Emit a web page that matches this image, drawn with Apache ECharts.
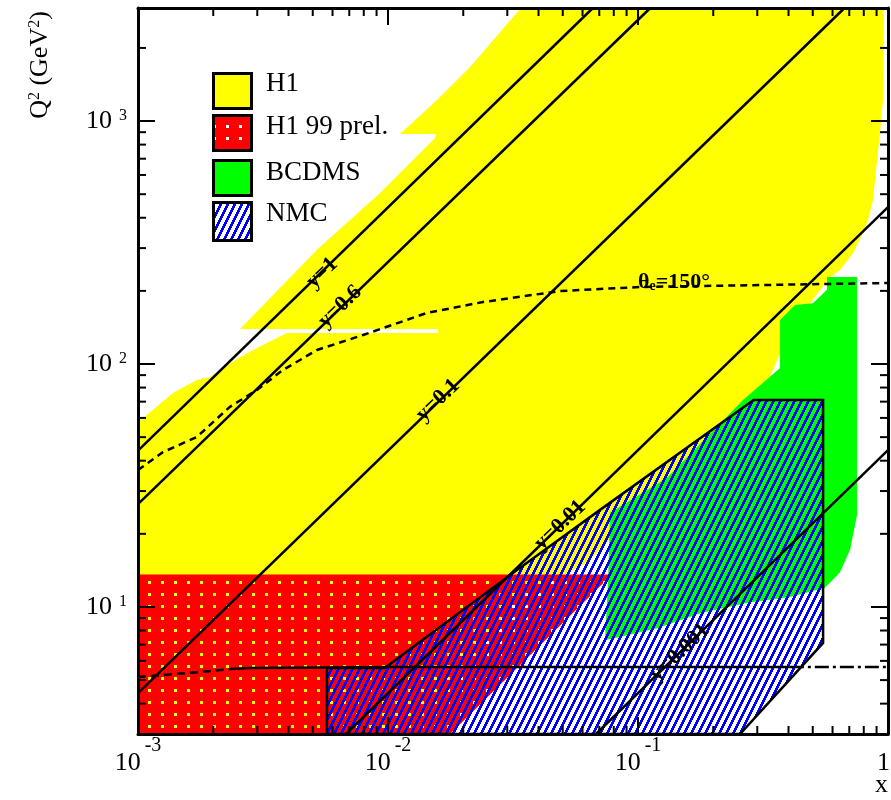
<!DOCTYPE html>
<html>
<head>
<meta charset="utf-8">
<script src="https://cdn.jsdelivr.net/npm/echarts@6/dist/echarts.min.js"></script>
<style>
  html, body { margin: 0; padding: 0; background: #fff; }
  #chart { width: 891px; height: 800px; }
</style>
</head>
<body>
<div id="chart"></div>
<script>
// ---- axis ranges and tick values ----
const X_MIN = 0.001, X_MAX = 1;
const Q_MIN = 3, Q_MAX = 2920;
const xMinorTicks = [0.002, 0.003, 0.004, 0.005, 0.006, 0.007, 0.008, 0.009,
                     0.02, 0.03, 0.04, 0.05, 0.06, 0.07, 0.08, 0.09,
                     0.2, 0.3, 0.4, 0.5, 0.6, 0.7, 0.8, 0.9];
const qMinorTicks = [4, 5, 6, 7, 8, 9, 20, 30, 40, 50, 60, 70, 80, 90,
                     200, 300, 400, 500, 600, 700, 800, 900, 2000];

// ---- measured regions, [x, Q2] ----
const h1Region = [
  [0.001, 3], [0.0134, 3], [0.0322, 10.7], [0.0625, 15.2], [0.1306, 33.3],
  [0.3076, 71.1], [0.4055, 138], [0.586, 228], [0.643, 244], [0.724, 286],
  [0.794, 346], [0.832, 392], [0.871, 473], [0.904, 691], [0.929, 893],
  [0.955, 1221], [0.964, 2920], [0.034, 2920], [0.0213, 1669], [0.0157, 1221],
  [0.01117, 885], [0.01556, 885], [0.01542, 852], [0.00929, 506], [0.0052, 295],
  [0.00256, 139.4], [0.01585, 139.4], [0.01585, 134.2], [0.00394, 134.2],
  [0.00316, 119.7], [0.00256, 106.9], [0.00219, 96.3], [0.00194, 88.4],
  [0.00172, 86.0], [0.00138, 76.0], [0.00112, 63.5], [0.001, 57.7]
];
const h1PrelRegion = [[0.001, 3], [0.001, 13.6], [0.0787, 13.6], [0.0177, 3]];
const bcdmsRegion = [
  [0.570, 228], [0.752, 228], [0.752, 23.9], [0.705, 17.2], [0.643, 13.9],
  [0.56, 12.0], [0.4055, 11.0], [0.275, 10.4], [0.1786, 9.44], [0.1202, 8.19],
  [0.0847, 7.52], [0.0738, 7.31], [0.0759, 12.9], [0.0773, 24.4], [0.1306, 34.0],
  [0.263, 71.1], [0.370, 96.3], [0.370, 151.8], [0.4246, 175], [0.501, 178],
  [0.570, 202]
];
const nmcRegion = [
  [0.0057, 3], [0.0057, 5.61], [0.0097, 5.61], [0.0316, 13.8], [0.0705, 25.1],
  [0.29, 71.1], [0.55, 71.1], [0.55, 7.11], [0.256, 3]
];

// ---- lines of constant y ----
const yLine1 = [[0.001, 44], [0.066, 2920]];
const yLine06 = [[0.001, 26.5], [0.112, 2920]];
const yLine01 = [[0.001, 4.42], [0.67, 2920]];
const yLine001 = [[0.00679, 3], [1, 442]];
const yLine0001 = [[0.0679, 3], [1, 44.2]];

// ---- lines of constant electron angle ----
const theta150 = [
  [0.001, 36.6], [0.00126, 43.4], [0.00172, 50.1], [0.00233, 66.6], [0.00299, 78.2],
  [0.0038, 94.5], [0.0052, 114.2], [0.00794, 131.6], [0.0143, 162.2], [0.024, 180],
  [0.0488, 199.7], [0.102, 207.5], [1, 215.5]
];
// low-angle curve, drawn in three pieces with different dash styles
const thetaLowLeft = [[0.001, 5.15], [0.00177, 5.40], [0.00233, 5.55]];
const thetaLowMid = [[0.00233, 5.55], [0.00281, 5.61], [0.0112, 5.66], [0.405, 5.66]];
const thetaLowRight = [[0.405, 5.66], [1, 5.66]];

// ---- line captions: text, x, Q2 ----
const yLabelText = ['y=1', 'y=0.6', 'y=0.1', 'y=0.01', 'y=0.001'];
const yLabelPos = [[0.00545, 237], [0.00643, 172], [0.01585, 71], [0.0488, 21.7], [0.147, 6.5]];
const thetaLabelPos = [[0.1, 196]];

// ---- fill patterns ----
function dotPattern(bg, w, h) {
  const c = document.createElement('canvas');
  c.width = w; c.height = h;
  const g = c.getContext('2d');
  g.fillStyle = bg; g.fillRect(0, 0, w, h);
  g.clearRect(5, 5, 3, 3);
  return { image: c, repeat: 'repeat' };
}
function hatchPattern(color) {
  const W = 7, H = 14;
  const c = document.createElement('canvas');
  c.width = W; c.height = H;
  const g = c.getContext('2d');
  g.fillStyle = color;
  for (let r = 0; r < H; r++) {
    const c0 = (W - 1 - Math.floor(r / 2) + W) % W;
    for (let k = 0; k < 3; k++) g.fillRect((c0 + k) % W, r, 1, 1);
  }
  return { image: c, repeat: 'repeat' };
}
const redDots = dotPattern('#ff0000', 13, 12);
const blueHatch = hatchPattern('#0000ff');

// ---- series builders ----
function region(points, fill, stroke, z) {
  return {
    type: 'custom', coordinateSystem: 'cartesian2d', silent: true, z: z,
    data: points,
    renderItem: function (params, api) {
      if (params.dataIndex !== 0) return;
      return {
        type: 'polygon',
        shape: { points: points.map(p => api.coord(p)) },
        style: { fill: fill, stroke: stroke || null, lineWidth: 2.5 }
      };
    }
  };
}
function curve(points, dash, z) {
  return {
    type: 'line', data: points, symbol: 'none', silent: true, z: z || 6,
    clip: true, animation: false,
    lineStyle: { color: '#000', width: 2.5, type: dash || 'solid' }
  };
}
function ticks(values, isX) {
  return {
    type: 'custom', coordinateSystem: 'cartesian2d', silent: true, z: 20,
    data: values.map(v => isX ? [v, Q_MIN] : [X_MIN, v]),
    renderItem: function (params, api) {
      const v = values[params.dataIndex];
      const a = api.coord(isX ? [v, Q_MIN] : [X_MIN, v]);
      const b = api.coord(isX ? [v, Q_MAX] : [X_MAX, v]);
      const L = 8;
      const st = { stroke: '#000', lineWidth: 2 };
      return {
        type: 'group', children: isX ? [
          { type: 'line', shape: { x1: a[0], y1: a[1], x2: a[0], y2: a[1] - L }, style: st },
          { type: 'line', shape: { x1: b[0], y1: b[1], x2: b[0], y2: b[1] + L }, style: st }
        ] : [
          { type: 'line', shape: { x1: a[0], y1: a[1], x2: a[0] + L, y2: a[1] }, style: st },
          { type: 'line', shape: { x1: b[0], y1: b[1], x2: b[0] - L, y2: b[1] }, style: st }
        ]
      };
    }
  };
}

const SERIF = '"Liberation Serif", "DejaVu Serif", serif';

function powerLabel(v) {
  const e = Math.round(Math.log10(v));
  if (Math.abs(Math.log10(v) - e) > 1e-6) return '';
  if (e === 0) return '{b|1}{s| }';
  return '{b|10}{s|' + e + '}';
}

const axisCommon = {
  type: 'log', logBase: 10,
  axisLine: { show: true, onZero: false, lineStyle: { color: '#000', width: 3 } },
  axisTick: { show: true, inside: true, length: 17, lineStyle: { color: '#000', width: 2 } },
  splitLine: { show: false },
  z: 15
};

const option = {
  animation: false,
  backgroundColor: '#fff',
  grid: { left: 138, right: 3, top: 8, bottom: 66, containLabel: false, outerBoundsMode: 'none' },
  xAxis: [
    Object.assign({}, axisCommon, {
      min: X_MIN, max: X_MAX, position: 'bottom',
      axisLabel: {
        show: true, margin: 2, showMinLabel: true, showMaxLabel: true, hideOverlap: false,
        formatter: powerLabel,
        rich: {
          b: { fontFamily: SERIF, fontSize: 26, lineHeight: 40, color: '#000', verticalAlign: 'bottom' },
          s: { fontFamily: SERIF, fontSize: 20, lineHeight: 20, color: '#000', verticalAlign: 'top', padding: [0, 0, 0, 4] }
        }
      }
    }),
    Object.assign({}, axisCommon, {
      min: X_MIN, max: X_MAX, position: 'top', axisLabel: { show: false }
    })
  ],
  yAxis: [
    Object.assign({}, axisCommon, {
      min: Q_MIN, max: Q_MAX, position: 'left',
      axisLabel: {
        show: true, margin: 52, align: 'left', hideOverlap: false,
        formatter: powerLabel,
        rich: {
          b: { fontFamily: SERIF, fontSize: 26, lineHeight: 26, color: '#000' },
          s: { fontFamily: SERIF, fontSize: 16, lineHeight: 16, color: '#000', verticalAlign: 'top', padding: [0, 0, 0, 7] }
        }
      }
    }),
    Object.assign({}, axisCommon, {
      min: Q_MIN, max: Q_MAX, position: 'right', axisLabel: { show: false }
    })
  ],
  series: [
    region(h1Region, '#ffff00', null, 1),
    region(bcdmsRegion, '#00ff00', null, 2),
    region(h1PrelRegion, redDots, null, 3),
    region(nmcRegion, blueHatch, '#000', 4),
    curve(yLine1), curve(yLine06), curve(yLine01), curve(yLine001), curve(yLine0001),
    curve(theta150, [7, 5]),
    curve(thetaLowLeft, [8, 5]),
    curve(thetaLowMid),
    curve(thetaLowRight, [14, 4, 3, 4]),
    {
      type: 'custom', coordinateSystem: 'cartesian2d', silent: true, z: 8,
      data: yLabelPos,
      renderItem: function (params, api) {
        const p = api.coord(yLabelPos[params.dataIndex]);
        return {
          type: 'text', x: p[0], y: p[1], rotation: 44 * Math.PI / 180,
          style: {
            text: yLabelText[params.dataIndex], font: 'bold 22px ' + SERIF, fill: '#000',
            align: 'center', verticalAlign: 'middle', textAlign: 'center', textVerticalAlign: 'middle'
          }
        };
      }
    },
    {
      type: 'custom', coordinateSystem: 'cartesian2d', silent: true, z: 8,
      data: thetaLabelPos,
      renderItem: function (params, api) {
        const p = api.coord(thetaLabelPos[0]);
        return {
          type: 'text', x: p[0], y: p[1],
          style: {
            text: '{a|θ}{e|e}{a|=150°}',
            rich: {
              a: { fontFamily: SERIF, fontSize: 22, fontWeight: 'bold', fill: '#000', color: '#000' },
              e: { fontFamily: SERIF, fontSize: 14, fontWeight: 'bold', fill: '#000', color: '#000', verticalAlign: 'bottom' }
            },
            align: 'left', verticalAlign: 'bottom', textAlign: 'left', textVerticalAlign: 'bottom'
          }
        };
      }
    },
    ticks(xMinorTicks, true),
    ticks(qMinorTicks, false)
  ],
  graphic: [
    { type: 'rect', shape: { x: 213.5, y: 73.5, width: 38, height: 35 }, style: { fill: '#ffff00', stroke: '#000', lineWidth: 3 }, z: 30 },
    { type: 'rect', shape: { x: 213.5, y: 115.5, width: 38, height: 35 }, style: { fill: '#ffffff', stroke: null }, z: 30 },
    { type: 'rect', shape: { x: 213.5, y: 115.5, width: 38, height: 35 }, style: { fill: redDots, stroke: '#000', lineWidth: 3 }, z: 31 },
    { type: 'rect', shape: { x: 213.5, y: 160.5, width: 38, height: 35 }, style: { fill: '#00ff00', stroke: '#000', lineWidth: 3 }, z: 30 },
    { type: 'rect', shape: { x: 213.5, y: 202.5, width: 38, height: 38 }, style: { fill: '#ffffff', stroke: null }, z: 30 },
    { type: 'rect', shape: { x: 213.5, y: 202.5, width: 38, height: 38 }, style: { fill: blueHatch, stroke: '#000', lineWidth: 3 }, z: 31 },
    { type: 'text', x: 266, y: 83.5, z: 30, style: { text: 'H1', font: '27px ' + SERIF, fill: '#000', verticalAlign: 'middle', textVerticalAlign: 'middle' } },
    { type: 'text', x: 266, y: 127, z: 30, style: { text: 'H1 99 prel.', font: '27px ' + SERIF, fill: '#000', verticalAlign: 'middle', textVerticalAlign: 'middle' } },
    { type: 'text', x: 266, y: 172.5, z: 30, style: { text: 'BCDMS', font: '27px ' + SERIF, fill: '#000', verticalAlign: 'middle', textVerticalAlign: 'middle' } },
    { type: 'text', x: 266, y: 214, z: 30, style: { text: 'NMC', font: '27px ' + SERIF, fill: '#000', verticalAlign: 'middle', textVerticalAlign: 'middle' } },
    {
      type: 'text', x: 40, y: 65, rotation: Math.PI / 2, z: 30,
      style: {
        text: '{a|Q}{s|2}{a| (GeV}{s|2}{a|)}',
        rich: {
          a: { fontFamily: SERIF, fontSize: 26, fill: '#000', color: '#000' },
          s: { fontFamily: SERIF, fontSize: 16, fill: '#000', color: '#000', verticalAlign: 'top' }
        },
        align: 'center', verticalAlign: 'middle', textAlign: 'center', textVerticalAlign: 'middle'
      }
    },
    { type: 'text', x: 888, y: 798, z: 30, style: { text: 'x', font: '26px ' + SERIF, fill: '#000', align: 'right', verticalAlign: 'bottom', textAlign: 'right', textVerticalAlign: 'bottom' } }
  ]
};

const chart = echarts.init(document.getElementById('chart'), null, { renderer: 'canvas' });
chart.setOption(option);
</script>
</body>
</html>
